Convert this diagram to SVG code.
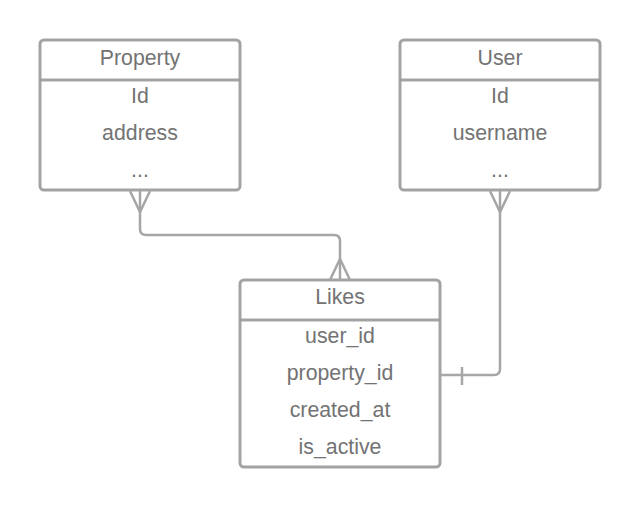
<svg xmlns="http://www.w3.org/2000/svg" width="640" height="508" viewBox="0 0 640 508">
<style>
.box{fill:#ffffff;stroke:#a3a3a3;stroke-width:3}
.sep{stroke:#a3a3a3;stroke-width:3}
.t{font-family:"Liberation Sans",Arial,sans-serif;font-size:21.3px;fill:#737373;text-anchor:middle}
.c{fill:none;stroke:#a6a6a6;stroke-width:2.5}
</style>
<rect width="640" height="508" fill="#ffffff"/>
<g id="connectors">
<path class="c" d="M140 190 V229 Q140 235 146 235 H334 Q340 235 340 241 V280"/>
<path class="c" d="M130 191 L140 212 L150 191 M330 280 L340 259 L350 280"/>
<path class="c" d="M500 190 V369 Q500 375 494 375 H441"/>
<path class="c" d="M490 191 L500 212 L510 191 M462 367 V385"/>
</g>
<g id="property">
<rect class="box" x="40" y="40" width="200" height="150" rx="4"/>
<line class="sep" x1="40" y1="80" x2="240" y2="80"/>
<text class="t" x="140" y="65">Property</text>
<text class="t" x="140" y="103">Id</text>
<text class="t" x="140" y="140">address</text>
<text class="t" x="140" y="177">...</text>
</g>
<g id="user">
<rect class="box" x="400" y="40" width="200" height="150" rx="4"/>
<line class="sep" x1="400" y1="80" x2="600" y2="80"/>
<text class="t" x="500" y="65">User</text>
<text class="t" x="500" y="103">Id</text>
<text class="t" x="500" y="140">username</text>
<text class="t" x="500" y="177">...</text>
</g>
<g id="likes">
<rect class="box" x="240" y="280" width="200" height="187" rx="4"/>
<line class="sep" x1="240" y1="320" x2="440" y2="320"/>
<text class="t" x="340" y="304">Likes</text>
<text class="t" x="340" y="343">user_id</text>
<text class="t" x="340" y="380">property_id</text>
<text class="t" x="340" y="417">created_at</text>
<text class="t" x="340" y="454">is_active</text>
</g>
</svg>
